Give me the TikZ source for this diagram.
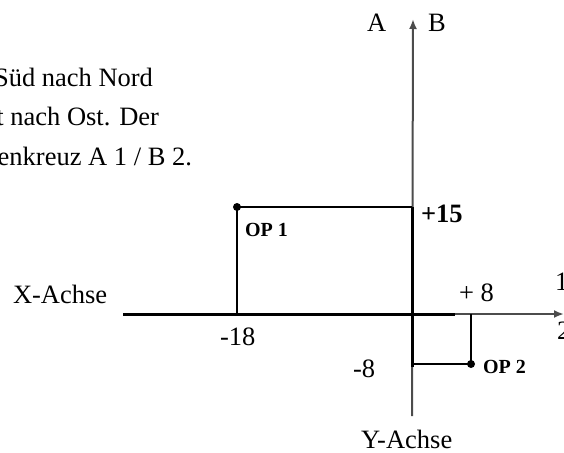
\documentclass[tikz,border=0pt]{standalone}
\usepackage{fontspec}
\setmainfont{Liberation Serif}
\usetikzlibrary{arrows.meta}
\begin{document}
\begin{tikzpicture}[x=1pt,y=-1pt,
  lbl/.style={inner sep=0pt,outer sep=0pt,anchor=base west,font=\fontsize{26.5}{30}\selectfont},
  lble/.style={lbl,anchor=base east},
  bold/.style={inner sep=0pt,outer sep=0pt,anchor=base west,font=\fontsize{20}{24}\selectfont\bfseries},
  boldbig/.style={bold,font=\fontsize{26.5}{30}\selectfont\bfseries},
  thinaxis/.style={line width=2pt,black!70},
  thickaxis/.style={line width=3pt,black},
  leg/.style={line width=2.2pt,black},
  pt/.style={circle,fill=black,inner sep=0pt,minimum size=8pt}]
\useasboundingbox (0,0) rectangle (564,452);
\clip (0,0) rectangle (564,452);
% left text (cut off at the left edge, as in the reference)
\node[lble] (t1) at (153,86) {Süd nach Nord};
\node[lble] (t2) at (159,125) {Ost nach Ost. Der};
\node[lble] (t3) at (192,165) {Achsenkreuz A 1 / B 2.};
% axes coordinates
\coordinate (ytop) at (413,19);
\coordinate (ybot) at (412,416);
\coordinate (ythickA) at (412,207);
\coordinate (ythickB) at (412,367);
\coordinate (xleft) at (123,314);
\coordinate (xmid) at (455,314);
\coordinate (xright) at (564,314);
% vertical axis
\draw[thinaxis,-{Latex[length=10pt,width=8pt]}] (ybot) -- (ytop);
\draw[thickaxis] (ythickA) -- (ythickB);
% horizontal axis
\draw[thinaxis,-{Latex[length=10pt,width=8pt]}] (xmid) -- (xright);
\draw[thickaxis] (xleft) -- (xmid);
% OP1
\coordinate (op1) at (237,207);
\coordinate (op1y) at (412,207);
\coordinate (op1x) at (237,314);
\draw[leg] (op1y) -- (op1) -- (op1x);
\node[pt] (p1) at (op1) {};
% OP2
\coordinate (op2) at (471,364);
\coordinate (op2y) at (412,364);
\coordinate (op2x) at (471,314);
\draw[leg] (op2y) -- (op2) -- (op2x);
\node[pt] (p2) at (op2) {};
% labels
\node[lbl] (A) at (367,32) {A};
\node[lbl] (B) at (428,32) {B};
\node[lbl] (xa) at (13,303) {X-Achse};
\node[lbl] (ya) at (361,448) {Y-Achse};
\node[lbl] (m18) at (220,345) {-18};
\node[lbl] (m8) at (353,377) {-8};
\node[lbl] (p8) at (459,301) {+ 8};
\node[boldbig] (p15) at (421,222) {+15};
\node[bold] (l1) at (245,236) {OP 1};
\node[bold] (l2) at (483,373) {OP 2};
\node[lbl] (one) at (555,290) {1};
\node[lbl] (two) at (557,339) {2};
\end{tikzpicture}
\end{document}
